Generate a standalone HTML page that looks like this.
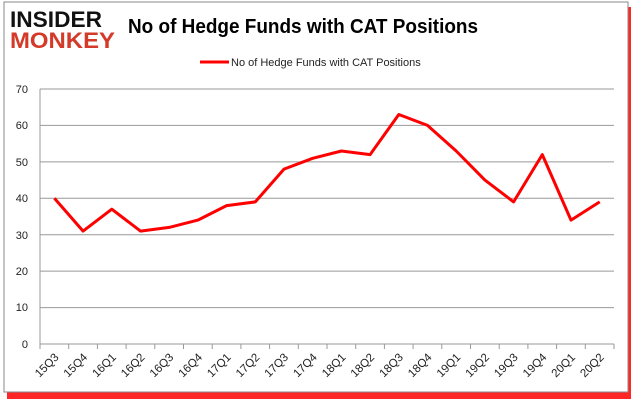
<!DOCTYPE html>
<html><head><style>
body{margin:0;width:635px;height:405px;background:#fff;overflow:hidden}
</style></head><body>
<svg width="635" height="405" xmlns="http://www.w3.org/2000/svg" font-family="Liberation Sans, sans-serif">
<rect x="7" y="7" width="624" height="392" fill="#f00" opacity="0.85"/>
<rect x="4" y="2" width="624" height="390" fill="#fff" stroke="#888" stroke-width="1"/>
<text x="10" y="27" font-size="22" font-weight="bold" fill="#111" textLength="92" lengthAdjust="spacingAndGlyphs">INSIDER</text>
<text x="10" y="48" font-size="22" font-weight="bold" fill="#d33a2a" textLength="105" lengthAdjust="spacingAndGlyphs">MONKEY</text>
<text x="128" y="33" font-size="20" font-weight="bold" fill="#000" textLength="350" lengthAdjust="spacingAndGlyphs">No of Hedge Funds with CAT Positions</text>
<line x1="200" y1="62" x2="229" y2="62" stroke="#f00" stroke-width="3"/>
<text x="231" y="66" font-size="11" fill="#222">No of Hedge Funds with CAT Positions</text>
<g stroke="#999" stroke-width="1">
<line x1="40" y1="89" x2="614" y2="89"/><line x1="40" y1="125.4" x2="614" y2="125.4"/>
<line x1="40" y1="161.9" x2="614" y2="161.9"/><line x1="40" y1="198.3" x2="614" y2="198.3"/>
<line x1="40" y1="234.7" x2="614" y2="234.7"/><line x1="40" y1="271.1" x2="614" y2="271.1"/>
<line x1="40" y1="307.6" x2="614" y2="307.6"/><line x1="40" y1="344" x2="614" y2="344"/>
<line x1="40" y1="89" x2="40" y2="344"/>
</g>
<g font-size="11" fill="#222" text-anchor="end">
<text x="28" y="93">70</text><text x="28" y="129">60</text><text x="28" y="166">50</text>
<text x="28" y="202">40</text><text x="28" y="239">30</text><text x="28" y="275">20</text>
<text x="28" y="311">10</text><text x="28" y="348">0</text>
</g>
<g id="t" stroke="#999"></g>
<polyline fill="none" stroke="#f00" stroke-width="3" stroke-linejoin="round" points="54.4,198.3 83.1,231.1 111.8,209.2 140.5,231.1 169.2,227.4 197.9,220.1 226.6,205.6 255.3,201.9 284,169.1 312.7,158.3 341.4,151 370.1,154.6 398.8,114.5 427.5,125.4 456.2,151 484.9,180.1 513.6,201.9 542.3,154.6 571,220.1 599.7,201.9"/>
<g font-size="11.5" fill="#222" id="xl"></g>
<script>
var l=["15Q3","15Q4","16Q1","16Q2","16Q3","16Q4","17Q1","17Q2","17Q3","17Q4","18Q1","18Q2","18Q3","18Q4","19Q1","19Q2","19Q3","19Q4","20Q1","20Q2"];
var t=document.getElementById('t'),x=document.getElementById('xl'),ns="http://www.w3.org/2000/svg";
for(var i=0;i<=20;i++){var e=document.createElementNS(ns,'line');var px=40+28.7*i;e.setAttribute('x1',px);e.setAttribute('x2',px);e.setAttribute('y1',344);e.setAttribute('y2',349);t.appendChild(e);}
for(var i=0;i<20;i++){var px=40+28.7*(i+0.5)+5;var s=document.createElementNS(ns,'text');s.setAttribute('x',px);s.setAttribute('y',358);s.setAttribute('text-anchor','end');s.setAttribute('transform','rotate(-45 '+px+' 358)');s.textContent=l[i];x.appendChild(s);}
</script>
</svg>
</body></html>
